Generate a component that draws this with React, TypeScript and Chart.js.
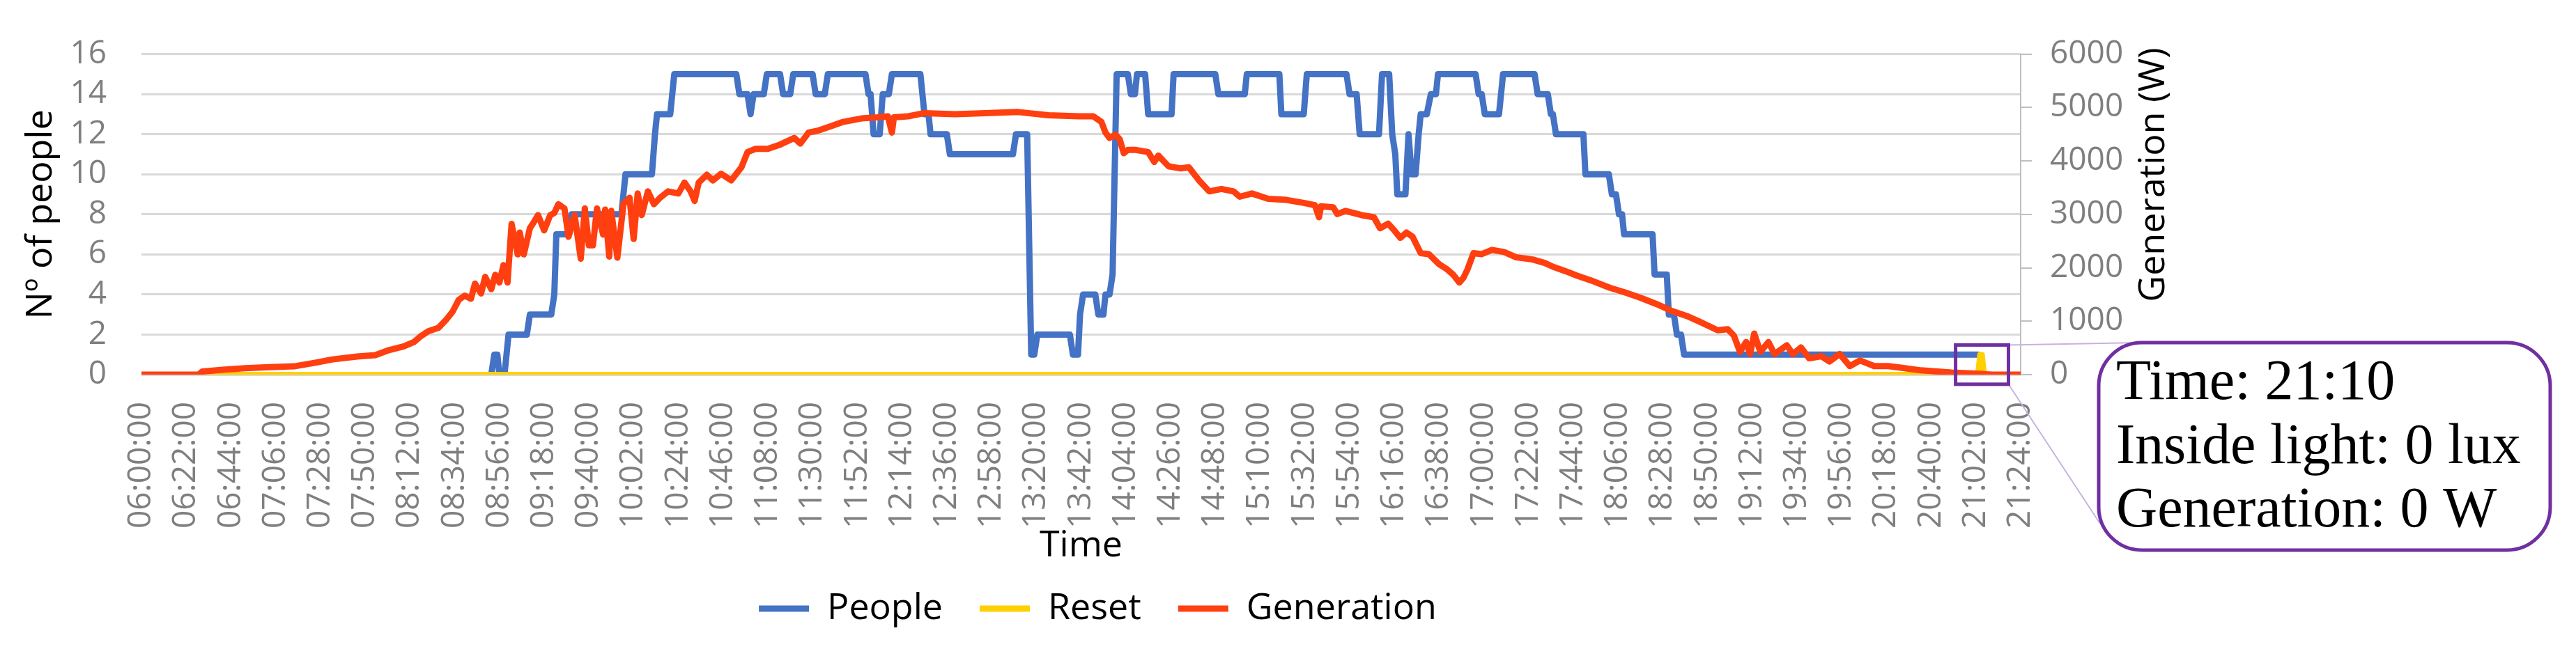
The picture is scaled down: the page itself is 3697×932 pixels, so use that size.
import { useEffect, useRef } from "react";
import { Chart, registerables } from "chart.js";

Chart.register(...registerables);

// [minutes after midnight, people]
const people: [number, number][] = [
  [532, 0], [533.5, 1], [535, 1], [536, 0], [538.5, 0], [540.5, 2], [549.5, 2], [551, 3],
  [561.5, 3], [563, 4], [564, 7], [570, 7], [571.5, 8], [596, 8], [598, 10], [611, 10],
  [612.5, 12], [613.5, 13], [620, 13], [622, 15], [652.5, 15], [654, 14], [658, 14], [659.5, 13],
  [661, 14], [666, 14], [667.5, 15], [674, 15], [675.5, 14], [679, 14], [680.5, 15], [690, 15],
  [691.5, 14], [696, 14], [697.5, 15], [716, 15], [717.5, 14], [718.5, 14], [720, 12], [723, 12],
  [724.5, 14], [727.5, 14], [729, 15], [743, 15], [745, 13], [747, 13], [748, 12], [756, 12],
  [757.5, 11], [788.5, 11], [790, 12], [795.5, 12], [797.5, 1], [799, 1], [800.5, 2], [816.5, 2],
  [818, 1], [820.5, 1], [821.5, 3], [823, 4], [829, 4], [830.5, 3], [833, 3], [834, 4],
  [836, 4], [837.5, 5], [839.5, 15], [845, 15], [846.5, 14], [848.5, 14], [849.5, 15], [853.5, 15],
  [855, 13], [866.5, 13], [867.5, 15], [888, 15], [889.5, 14], [902.5, 14], [903.5, 15], [919.5, 15],
  [920.5, 13], [931.5, 13], [933, 15], [952.5, 15], [954, 14], [957.5, 14], [959, 12], [968.5, 12],
  [970, 15], [973.5, 15], [975, 12], [976.5, 11], [977.5, 9], [981.5, 9], [983, 12], [984.5, 10],
  [986.5, 10], [988, 12], [989, 13], [992, 13], [994, 14], [996.5, 14], [997.5, 15], [1016, 15],
  [1017.5, 14], [1019, 14], [1020.5, 13], [1027.5, 13], [1029.5, 15], [1045, 15], [1046.5, 14], [1051.5, 14],
  [1053, 13], [1054, 13], [1055.5, 12], [1069, 12], [1070, 10], [1081.5, 10], [1083, 9], [1085, 9],
  [1086.5, 8], [1088, 8], [1089, 7], [1103, 7], [1104, 5], [1110, 5], [1111, 3], [1113.5, 3],
  [1115, 2], [1117, 2], [1118.5, 1], [1263, 1],
];

// [minutes, reset flag]
const reset: [number, number][] = [
  [360, 0], [1263, 0], [1264, 1], [1265, 1], [1266, 0], [1268, 0],
];

// [minutes, W]
const generation: [number, number][] = [
  [360, 0], [388, 0], [390, 60], [400, 90], [411, 120], [423, 140], [435, 155], [445, 220],
  [454, 285], [466, 340], [475, 365], [481, 450], [489, 530], [494, 610], [497, 710], [501, 810],
  [506, 875], [510, 1035], [513, 1180], [516, 1400], [519, 1480], [522, 1420], [524, 1705], [527, 1520],
  [529, 1830], [532, 1600], [534, 1870], [536, 1725], [538, 2050], [540, 1725], [542, 2820], [545, 2250],
  [546, 2660], [548, 2250], [551, 2740], [553, 2860], [555, 2985], [558, 2700], [561, 2985], [563, 3025],
  [565, 3190], [568, 3110], [570, 2580], [573, 2985], [576, 2170], [578, 3110], [580, 2420], [582, 2420],
  [584, 3110], [587, 2620], [588, 3090], [590, 2210], [591, 3065], [594, 2190], [597, 3190], [600, 3310],
  [602, 2540], [604, 3390], [606, 2985], [609, 3430], [612, 3190], [615, 3310], [619, 3430], [624, 3390],
  [627, 3595], [630, 3430], [632, 3250], [634, 3595], [638, 3740], [641, 3635], [645, 3760], [650, 3635],
  [655, 3880], [658, 4165], [662, 4225], [668, 4225], [674, 4305], [681, 4430], [684, 4325], [688, 4530],
  [693, 4570], [699, 4650], [705, 4730], [714, 4795], [722, 4815], [727, 4835], [729, 4530], [730, 4815],
  [737, 4835], [745, 4895], [760, 4875], [775, 4895], [791, 4915], [806, 4855], [821, 4835], [828, 4835],
  [832, 4730], [834, 4530], [836, 4430], [839, 4490], [841, 4405], [843, 4145], [845, 4205], [849, 4205],
  [855, 4165], [858, 3980], [860, 4100], [865, 3900], [871, 3860], [875, 3880], [880, 3635], [885, 3430],
  [891, 3475], [897, 3430], [900, 3330], [906, 3390], [914, 3290], [923, 3270], [932, 3210], [937, 3170],
  [939, 2945], [940, 3150], [946, 3130], [948, 3005], [952, 3065], [960, 2985], [966, 2945], [969, 2740],
  [973, 2825], [976, 2700], [979, 2560], [982, 2660], [985, 2580], [989, 2275], [993, 2255], [998, 2070],
  [1002, 1970], [1005, 1870], [1008, 1725], [1010, 1810], [1012, 1970], [1015, 2275], [1019, 2255], [1024, 2335],
  [1030, 2295], [1036, 2195], [1044, 2155], [1050, 2090], [1054, 2020], [1060, 1940], [1066, 1850], [1074, 1745],
  [1082, 1625], [1089, 1545], [1097, 1440], [1105, 1320], [1112, 1200], [1120, 1095], [1127, 975], [1135, 830],
  [1140, 850], [1143, 730], [1146, 425], [1149, 610], [1151, 385], [1153, 770], [1156, 425], [1160, 610],
  [1163, 385], [1169, 550], [1172, 385], [1176, 510], [1180, 305], [1186, 345], [1190, 245], [1195, 385],
  [1200, 160], [1205, 265], [1212, 160], [1219, 160], [1227, 120], [1235, 80], [1250, 40], [1262, 20],
  [1270, 0], [1284, 0],
];

const xStart = 360; // 06:00
const xEnd = 1284; // 21:24
const xStep = 22;
const zoomWindow = [1252, 1278]; // minutes inside the purple square
const calloutLines = ["Time: 21:10", "Inside light: 0 lux", "Generation: 0 W"];

const sans = "'Open Sans', 'Noto Sans', sans-serif";
const purple = "#7030a0";

const hhmmss = (m: number) =>
  `${String(Math.floor(m / 60)).padStart(2, "0")}:${String(Math.round(m % 60)).padStart(2, "0")}:00`;

const toPoints = (rows: [number, number][]) => rows.map(([x, y]) => ({ x, y }));

const callout = {
  id: "callout",
  afterDraw(chart: any) {
    const { ctx, scales } = chart;
    const sx1 = scales.x.getPixelForValue(zoomWindow[0]);
    const sx2 = scales.x.getPixelForValue(zoomWindow[1]);
    const sy1 = scales.y.getPixelForValue(1.48);
    const sy2 = scales.y.getPixelForValue(-0.48);
    const bx = 3012, by = 492, bw = 648, bh = 298;

    ctx.save();
    ctx.strokeStyle = "#c6b3de";
    ctx.lineWidth = 2;
    ctx.beginPath();
    ctx.moveTo(sx2, sy1);
    ctx.lineTo(bx + 60, by);
    ctx.moveTo(sx2, sy2);
    ctx.lineTo(bx + 2, by + 260);
    ctx.stroke();

    ctx.strokeStyle = purple;
    ctx.lineWidth = 5;
    ctx.strokeRect(sx1, sy1, sx2 - sx1, sy2 - sy1);

    ctx.beginPath();
    ctx.roundRect(bx, by, bw, bh, 62);
    ctx.fillStyle = "#fff";
    ctx.fill();
    ctx.stroke();

    ctx.fillStyle = "#000";
    ctx.font = "82px 'Liberation Serif', serif";
    ctx.textAlign = "left";
    ctx.textBaseline = "alphabetic";
    calloutLines.forEach((t, i) => ctx.fillText(t, bx + 25, 573 + i * 91.5));

    // right axis title reads bottom to top
    ctx.translate(3091, 251);
    ctx.rotate(-Math.PI / 2);
    ctx.textAlign = "center";
    ctx.textBaseline = "middle";
    ctx.font = `52px ${sans}`;
    ctx.fillText("Generation (W)", 0, 0);
    ctx.restore();
  },
};

export default function App() {
  const canvasRef = useRef<HTMLCanvasElement>(null);
  const chartRef = useRef<Chart | null>(null);

  useEffect(() => {
    document.body.style.margin = "0";
    if (!canvasRef.current) return;
    if (chartRef.current) chartRef.current.destroy();

    chartRef.current = new Chart(canvasRef.current, {
      type: "line",
      data: {
        datasets: [
          {
            label: "People",
            data: toPoints(people),
            borderColor: "#4472c4",
            backgroundColor: "#4472c4",
            borderWidth: 9,
            yAxisID: "y",
            order: 3,
          },
          {
            label: "Reset",
            data: toPoints(reset),
            borderColor: "#ffd000",
            backgroundColor: "#ffd000",
            borderWidth: 8,
            yAxisID: "y",
            order: 2,
          },
          {
            label: "Generation",
            data: toPoints(generation),
            borderColor: "#ff3f0f",
            backgroundColor: "#ff3f0f",
            borderWidth: 9,
            yAxisID: "y1",
            order: 1,
          },
        ],
      },
      options: {
        responsive: false,
        animation: false,
        devicePixelRatio: 1,
        layout: { padding: { left: 25, right: 571, top: 39, bottom: 22 } },
        elements: {
          point: { radius: 0 },
          line: { tension: 0, borderCapStyle: "round", borderJoinStyle: "round" },
        },
        plugins: {
          tooltip: { enabled: false },
          legend: {
            position: "bottom",
            labels: {
              font: { family: sans, size: 52 },
              color: "#000",
              boxWidth: 72,
              boxHeight: 9,
              padding: 53,
              sort: (a: any, b: any) => a.datasetIndex - b.datasetIndex,
              generateLabels: (chart: any) =>
                Chart.defaults.plugins.legend.labels
                  .generateLabels(chart)
                  .map((l: any) => ({ ...l, lineWidth: 0, fillStyle: l.strokeStyle })),
            },
          },
        },
        scales: {
          x: {
            type: "linear",
            min: xStart,
            max: xEnd,
            grid: { display: false },
            border: { display: false },
            ticks: {
              stepSize: xStep,
              autoSkip: false,
              minRotation: 90,
              maxRotation: 90,
              padding: 31,
              color: "#7f7f7f",
              font: { family: sans, size: 46 },
              callback: (v: any) => hhmmss(Number(v)),
            },
            title: {
              display: true,
              text: "Time",
              color: "#000",
              padding: 0,
              font: { family: sans, size: 52, lineHeight: "22px" },
            },
            afterFit: (s: any) => {
              s.height = 257;
            },
          },
          y: {
            position: "left",
            min: 0,
            max: 16,
            grid: { color: "#d9d9d9", lineWidth: 3, drawTicks: false },
            border: { display: false },
            ticks: {
              stepSize: 2,
              autoSkip: false,
              padding: 50,
              color: "#7f7f7f",
              font: { family: sans, size: 46 },
              callback: (v: any) => String(v),
            },
            title: {
              display: true,
              text: "Nº of people",
              color: "#000",
              padding: { top: 3, bottom: 0 },
              font: { family: sans, size: 52 },
            },
            afterFit: (s: any) => {
              s.width = 178;
            },
          },
          y1: {
            position: "right",
            min: 0,
            max: 6000,
            grid: {
              drawOnChartArea: false,
              color: "#bfbfbf",
              lineWidth: 2,
              tickLength: 16,
            },
            border: { display: true, color: "#bfbfbf", width: 2 },
            ticks: {
              stepSize: 1000,
              autoSkip: false,
              padding: 26,
              color: "#7f7f7f",
              font: { family: sans, size: 46 },
              callback: (v: any) => String(v),
            },
            afterFit: (s: any) => {
              s.width = 226;
            },
          },
        },
      },
      plugins: [callout],
    });

    return () => {
      if (chartRef.current) {
        chartRef.current.destroy();
        chartRef.current = null;
      }
    };
  }, []);

  return (
    <div style={{ width: 3697, height: 932 }}>
      <canvas ref={canvasRef} width={3697} height={932} style={{ display: "block" }} />
    </div>
  );
}
